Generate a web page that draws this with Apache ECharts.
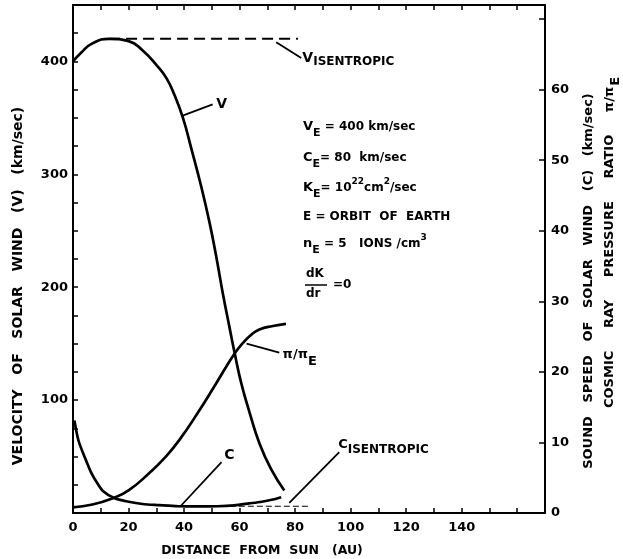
<!DOCTYPE html>
<html>
<head>
<meta charset="utf-8">
<script src="https://cdn.jsdelivr.net/npm/echarts@6/dist/echarts.min.js"></script>
<style>
  html, body { margin: 0; padding: 0; background: #fff; }
  #chart { width: 623px; height: 559px; }
</style>
</head>
<body>
<div id="chart"></div>
<script>
// distance from sun (AU) and velocity of solar wind (km/sec)
const vDist  = [0, 3, 7, 13, 20, 25, 30, 33.7, 36.6, 39.6, 42.6, 46.2, 49.2, 51.6, 54, 56.4, 58.2, 60.6, 63.6, 67.1, 71.3, 76.1];
const vSpeed = [400, 408, 416, 420, 418, 410, 397, 385, 370, 350, 323, 289, 257, 227, 194, 164, 142, 115, 89, 62, 39, 20];
// isentropic velocity (dashed)
const vIsenDist  = [13, 81];
const vIsenSpeed = [420, 420];
// sound speed C (km/sec)
const cDist  = [0.5, 2, 4.3, 6.5, 8.6, 11, 15, 20, 25, 31, 38, 45, 52, 58, 63.5, 68, 72, 75];
const cSpeed = [82, 64, 49, 36, 27, 19, 13, 10, 8, 7, 6, 5.8, 6, 6.8, 8.5, 10, 12, 14];
// isentropic sound speed (dashed)
const cIsenDist  = [50, 85];
const cIsenSpeed = [6, 6];
// cosmic ray pressure ratio pi/piE (right axis)
const rDist  = [0, 7, 14.4, 20, 27.6, 33, 38.4, 45.6, 51.6, 58.2, 61.2, 64, 67.1, 72, 76.7];
const ratio  = [0.8, 1.2, 2.1, 3.2, 5.7, 7.8, 10.4, 14.6, 18.4, 22.6, 24.1, 25.2, 26, 26.5, 26.8];
// tick labels
const xLabels = [0, 20, 40, 60, 80, 100, 120, 140];
const vLabels = [100, 200, 300, 400];
const rLabels = [0, 10, 20, 30, 40, 50, 60];

const FONT = '"DejaVu Sans", sans-serif';
const zip = (a, b) => a.map((x, i) => [x, b[i]]);

const chart = echarts.init(document.getElementById('chart'));

const axisText = { color: '#000', fontFamily: FONT, fontWeight: 'bold', fontSize: 13 };
const axisLine = { show: true, onZero: false, lineStyle: { color: '#000', width: 2 } };
const tick = { inside: true, length: 5, lineStyle: { color: '#000', width: 1.5 } };

chart.setOption({
    animation: false,
    grid: { left: 73, right: 78, top: 5, bottom: 46 },
    xAxis: [
        {
            type: 'value', min: 0, max: 170, interval: 10, position: 'bottom',
            axisLine: axisLine, axisTick: tick,
            axisLabel: Object.assign({
                margin: 8,
                formatter: v => xLabels.indexOf(v) >= 0 ? String(v) : ''
            }, axisText),
            splitLine: { show: false }
        },
        {
            type: 'value', min: 0, max: 170, interval: 10, position: 'top',
            axisLine: axisLine, axisTick: tick,
            axisLabel: { show: false },
            splitLine: { show: false }
        }
    ],
    yAxis: [
        {
            type: 'value', min: 0, max: 450, interval: 25, position: 'left',
            axisLine: axisLine, axisTick: tick,
            axisLabel: Object.assign({
                margin: 5,
                formatter: v => vLabels.indexOf(v) >= 0 ? String(v) : ''
            }, axisText),
            splitLine: { show: false }
        },
        {
            type: 'value', min: 0, max: 72, interval: 10, position: 'right',
            axisLine: axisLine,
            axisTick: { inside: true, length: 6, lineStyle: { color: '#000', width: 1.5 } },
            axisLabel: Object.assign({
                margin: 6,
                formatter: v => rLabels.indexOf(v) >= 0 ? String(v) : ''
            }, axisText),
            splitLine: { show: false }
        }
    ],
    series: [
        {
            name: 'V', type: 'line', xAxisIndex: 0, yAxisIndex: 0,
            data: zip(vDist, vSpeed), smooth: 0.5, showSymbol: false,
            lineStyle: { color: '#000', width: 2.7 }
        },
        {
            name: 'V isentropic', type: 'line', xAxisIndex: 0, yAxisIndex: 0,
            data: zip(vIsenDist, vIsenSpeed), showSymbol: false,
            lineStyle: { color: '#000', width: 2, type: [11, 6] }
        },
        {
            name: 'C', type: 'line', xAxisIndex: 0, yAxisIndex: 0,
            data: zip(cDist, cSpeed), smooth: 0.3, showSymbol: false,
            lineStyle: { color: '#000', width: 2.7 }
        },
        {
            name: 'C isentropic', type: 'line', xAxisIndex: 0, yAxisIndex: 0,
            data: zip(cIsenDist, cIsenSpeed), showSymbol: false,
            lineStyle: { color: '#000', width: 1.2, type: [6, 3] }
        },
        {
            name: 'pi/piE', type: 'line', xAxisIndex: 0, yAxisIndex: 1,
            data: zip(rDist, ratio), smooth: 0.5, showSymbol: false,
            lineStyle: { color: '#000', width: 2.7 }
        }
    ]
});

// ---- annotations ----
const measure = document.createElement('canvas').getContext('2d');
const els = [];

function txt(x, y, t, size, opts) {
    opts = opts || {};
    els.push({
        type: 'text', x: x, y: y, rotation: opts.rot || 0, silent: true,
        style: {
            text: t, fill: '#000',
            font: 'bold ' + size + 'px ' + FONT,
            align: opts.align || 'left', textAlign: opts.align || 'left',
            verticalAlign: 'middle', textVerticalAlign: 'middle'
        }
    });
}
// a row of pieces: [text, size, dy]
function row(x, y, parts) {
    let cx = x;
    parts.forEach(p => {
        txt(cx, y + (p[2] || 0), p[0], p[1]);
        measure.font = 'bold ' + p[1] + 'px ' + FONT;
        cx += measure.measureText(p[0]).width;
    });
}
function toPx(pt) {
    return chart.convertToPixel({ xAxisIndex: 0, yAxisIndex: 0 }, pt);
}
function leader(a, b) {
    const p = toPx(a), q = toPx(b);
    els.push({
        type: 'line', silent: true,
        shape: { x1: p[0], y1: p[1], x2: q[0], y2: q[1] },
        style: { stroke: '#000', lineWidth: 1.8 }
    });
}

// leader lines (data coordinates, left axis)
leader([39.5, 352], [50.3, 362]);
leader([73.2, 417], [82.2, 403]);
leader([62.5, 150], [74.3, 142]);
leader([38.8, 6.2], [53.5, 45]);
leader([77.9, 8.9], [95.9, 54]);

// curve labels
let p = toPx([51.6, 362]);
txt(p[0], p[1], 'V', 14);
p = toPx([82.6, 403]);
row(p[0], p[1], [['V', 14], ['ISENTROPIC', 12, 4]]);
p = toPx([75.5, 141]);
row(p[0], p[1] + 1, [['π/π', 13], ['E', 13, 7]]);
p = toPx([54.5, 51]);
txt(p[0], p[1], 'C', 14);
p = toPx([95.5, 61]);
row(p[0], p[1], [['C', 13], ['ISENTROPIC', 12, 6]]);

// parameter block
const bx = 303;
row(bx, 127, [['V', 13], ['E', 11, 6], [' = 400 km/sec', 12]]);
row(bx, 158, [['C', 13], ['E', 11, 6], ['= 80  km/sec', 12]]);
row(bx, 188, [['K', 13], ['E', 11, 6], ['= 10', 12], ['22', 9, -6], ['cm', 12], ['2', 9, -6], ['/sec', 12]]);
row(bx, 217, [['E = ORBIT  OF  EARTH', 12]]);
row(bx, 244, [['n', 13], ['E', 11, 6], [' = 5   IONS /cm', 12], ['3', 9, -6]]);
txt(bx + 3, 274, 'dK', 12);
els.push({ type: 'line', silent: true, shape: { x1: bx + 2, y1: 285, x2: bx + 24, y2: 285 },
           style: { stroke: '#000', lineWidth: 1.5 } });
txt(bx + 3, 294, 'dr', 12);
txt(bx + 30, 285, '=0', 12);

// axis names
txt(262, 551, 'DISTANCE  FROM  SUN   (AU)', 12.5, { align: 'center' });
txt(18, 286, 'VELOCITY   OF   SOLAR   WIND   (V)   (km/sec)', 14, { align: 'center', rot: Math.PI / 2 });
txt(589, 281, 'SOUND   SPEED   OF   SOLAR   WIND   (C)   (km/sec)', 13, { align: 'center', rot: Math.PI / 2 });
const line2 = 'COSMIC     RAY     PRESSURE     RATIO     π/π';
txt(610, 408, line2, 13, { align: 'left', rot: Math.PI / 2 });
measure.font = 'bold 13px ' + FONT;
txt(616, 408 - measure.measureText(line2).width - 1, 'E', 13, { align: 'left', rot: Math.PI / 2 });

chart.setOption({ graphic: { elements: els } });
</script>
</body>
</html>
